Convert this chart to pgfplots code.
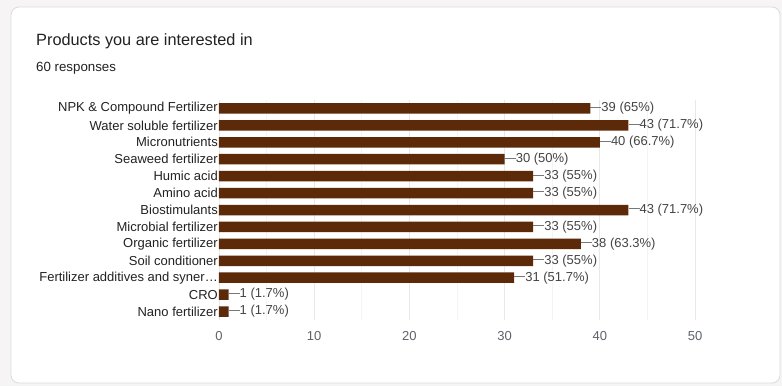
\documentclass[border=0pt]{standalone}
\usepackage{pgfplots}
\pgfplotsset{compat=1.18}
\usepackage{fontspec}
\setmainfont{Liberation Sans}
\definecolor{barc}{HTML}{5C2A08}
\definecolor{bgc}{HTML}{F6F4F4}
\definecolor{cardb}{HTML}{DADCE0}
\definecolor{gridc}{HTML}{E8E8E8}
\definecolor{mgridc}{HTML}{F4F4F4}
\definecolor{labc}{HTML}{222222}
\definecolor{valc}{HTML}{444444}
\definecolor{tickc}{HTML}{5F6368}
\definecolor{linec}{HTML}{777777}
\begin{document}
\begin{tikzpicture}[x=1pt,y=1pt]
\fill[bgc] (0,0) rectangle (782,386);
\filldraw[fill=white,draw=cardb,line width=0.8pt,rounded corners=8pt] (11,3) rectangle (780,379);
\node[anchor=base west,inner sep=0pt,text=labc,font=\fontsize{16.3}{19}\selectfont] at (36,340) {Products you are interested in};
\node[anchor=base west,inner sep=0pt,text=labc,font=\fontsize{13.3}{16}\selectfont] at (36,314) {60 responses};
\begin{axis}[
  at={(219pt,66pt)}, anchor=south west,
  scale only axis, width=476pt, height=220pt,
  xbar, bar width=10.5pt,
  xmin=0, xmax=50, ymin=-0.5, ymax=12.5,
  y dir=reverse,
  axis line style={draw=none},
  major tick length=0pt, minor tick length=0pt,
  xtick={0,10,20,30,40,50},
  minor xtick={5,15,25,35,45},
  xmajorgrids, xminorgrids,
  major grid style={gridc,line width=0.8pt},
  minor grid style={mgridc,line width=0.8pt},
  extra x ticks={0}, extra x tick labels={},
  extra x tick style={grid style={black,line width=1pt}},
  ytick={0,...,12},
  yticklabels={NPK \& Compound Fertilizer, Water soluble fertilizer, Micronutrients, Seaweed fertilizer, Humic acid, Amino acid, Biostimulants, Microbial fertilizer, Organic fertilizer, Soil conditioner, Fertilizer additives and syner…, CRO, Nano fertilizer},
  yticklabel style={font=\fontsize{13}{15}\selectfont, text=labc, inner xsep=1pt},
  xticklabel style={font=\fontsize{13}{15}\selectfont, text=tickc, yshift=-8pt},
  /pgf/number format/assume math mode=true,
  point meta=explicit symbolic,
  nodes near coords={\textcolor{linec}{\rule[0.33em]{11pt}{0.7pt}}\pgfplotspointmeta},
  every node near coord/.append style={anchor=west, inner xsep=0pt, font=\fontsize{13}{15}\selectfont, text=valc},
  clip=false,
]
\addplot[fill=barc, draw=none] coordinates {
(39,0) [39 (65\%)]
(43,1) [43 (71.7\%)]
(40,2) [40 (66.7\%)]
(30,3) [30 (50\%)]
(33,4) [33 (55\%)]
(33,5) [33 (55\%)]
(43,6) [43 (71.7\%)]
(33,7) [33 (55\%)]
(38,8) [38 (63.3\%)]
(33,9) [33 (55\%)]
(31,10) [31 (51.7\%)]
(1,11) [1 (1.7\%)]
(1,12) [1 (1.7\%)]
};
\end{axis}
\end{tikzpicture}
\end{document}
